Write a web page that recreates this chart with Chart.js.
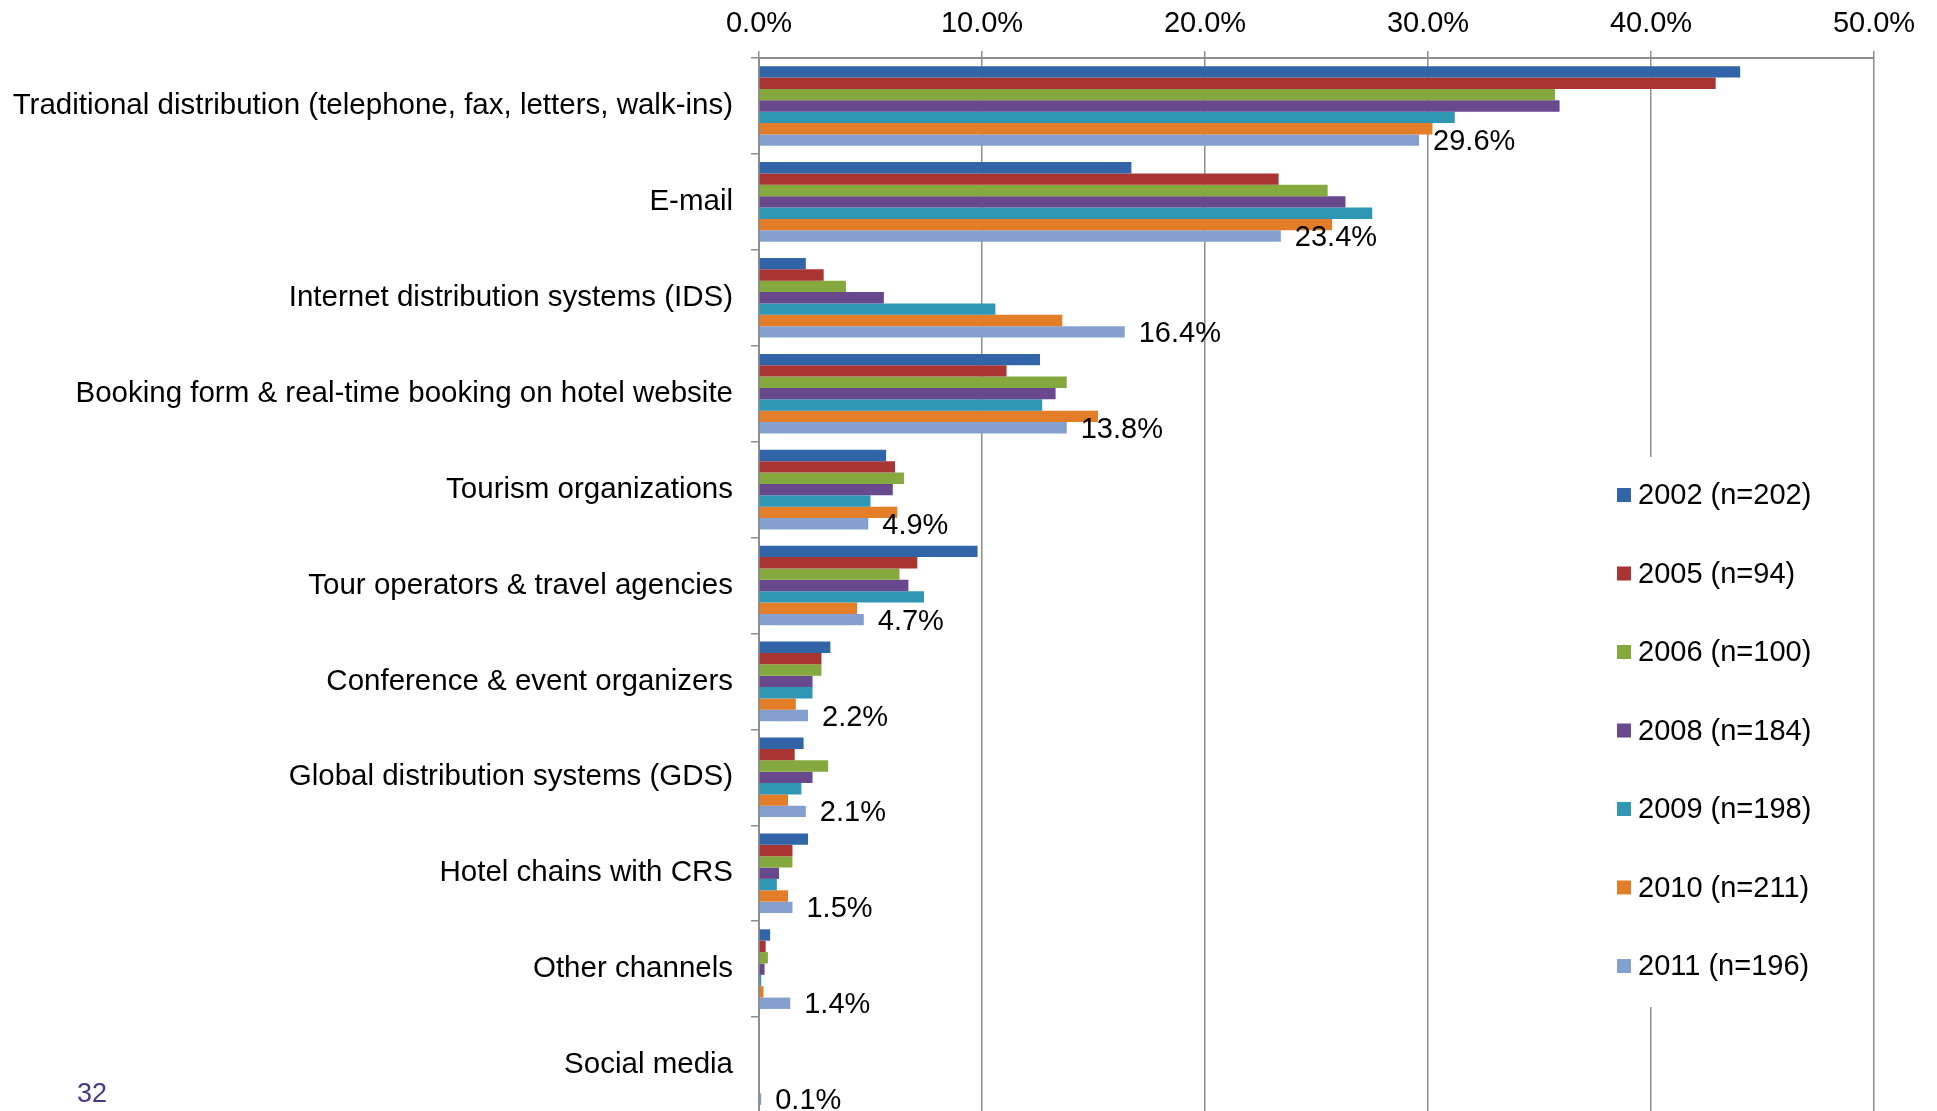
<!DOCTYPE html>
<html>
<head>
<meta charset="utf-8">
<script src="https://cdn.jsdelivr.net/npm/chart.js@4"></script>
<style>
    html, body { margin: 0; padding: 0; background: #fff; overflow: hidden; }
    #wrap { position: relative; width: 1937px; height: 1111px; overflow: hidden; }
    #pageNo { position: absolute; left: 77px; top: 1077px; font: 27px "Liberation Sans", Arial, sans-serif; color: #403c85; line-height: 32px; }
</style>
</head>
<body>
<div id="wrap">
    <canvas id="barChart" width="1937" height="1116"></canvas>
    <div id="pageNo">32</div>
</div>
<script>
const categories = [
    'Traditional distribution (telephone, fax, letters, walk-ins)',
    'E-mail',
    'Internet distribution systems (IDS)',
    'Booking form & real-time booking on hotel website',
    'Tourism organizations',
    'Tour operators & travel agencies',
    'Conference & event organizers',
    'Global distribution systems (GDS)',
    'Hotel chains with CRS',
    'Other channels',
    'Social media'
];

const seriesNames = ['2002 (n=202)', '2005 (n=94)', '2006 (n=100)', '2008 (n=184)', '2009 (n=198)', '2010 (n=211)', '2011 (n=196)'];
const seriesColors = ['#3165a8', '#a93533', '#86a93f', '#69498e', '#2f97b4', '#e47d27', '#84a0cf'];

const v2002 = [44.0, 16.7, 2.1, 12.6, 5.7, 9.8, 3.2, 2.0, 2.2, 0.5, null];
const v2005 = [42.9, 23.3, 2.9, 11.1, 6.1, 7.1, 2.8, 1.6, 1.5, 0.3, null];
const v2006 = [35.7, 25.5, 3.9, 13.8, 6.5, 6.3, 2.8, 3.1, 1.5, 0.4, null];
const v2008 = [35.9, 26.3, 5.6, 13.3, 6.0, 6.7, 2.4, 2.4, 0.9, 0.25, null];
const v2009 = [31.2, 27.5, 10.6, 12.7, 5.0, 7.4, 2.4, 1.9, 0.8, 0.1, null];
const v2010 = [30.2, 25.7, 13.6, 15.2, 6.2, 4.4, 1.65, 1.3, 1.3, 0.2, null];
const v2011 = [29.6, 23.4, 16.4, 13.8, 4.9, 4.7, 2.2, 2.1, 1.5, 1.4, 0.1];

const allValues = [v2002, v2005, v2006, v2008, v2009, v2010, v2011];
const xTicks = [0, 10, 20, 30, 40, 50];

const FONT = '"Liberation Sans", Arial, sans-serif';
const GRID = '#8e8e8e';

function buildDatasets() {
    return allValues.map((vals, i) => ({
        label: seriesNames[i],
        data: vals,
        backgroundColor: seriesColors[i],
        borderWidth: 0,
        barPercentage: 1.0,
        categoryPercentage: 0.83
    }));
}

// value labels on the last series (2011) only
const lastSeriesLabels = {
    id: 'lastSeriesLabels',
    afterDatasetsDraw(chart) {
        const ctx = chart.ctx;
        const idx = chart.data.datasets.length - 1;
        const meta = chart.getDatasetMeta(idx);
        ctx.save();
        ctx.font = '29px ' + FONT;
        ctx.fillStyle = '#000';
        ctx.textAlign = 'left';
        ctx.textBaseline = 'middle';
        meta.data.forEach((bar, j) => {
            const v = chart.data.datasets[idx].data[j];
            if (v == null) return;
            ctx.fillText(v.toFixed(1) + '%', bar.x + 14, bar.y + 2);
        });
        ctx.restore();
    }
};

// Excel-like legend box sitting inside the plot area
const boxLegend = {
    id: 'boxLegend',
    afterDatasetsDraw(chart) {
        const ctx = chart.ctx;
        ctx.save();
        ctx.fillStyle = '#fff';
        ctx.fillRect(1600, 457, 230, 550);
        ctx.font = '29px ' + FONT;
        ctx.textAlign = 'left';
        ctx.textBaseline = 'middle';
        chart.data.datasets.forEach((ds, i) => {
            const y = 495 + i * 78.5;
            ctx.fillStyle = ds.backgroundColor;
            ctx.fillRect(1617, y - 7, 14, 14);
            ctx.fillStyle = '#000';
            ctx.fillText(ds.label, 1638, y + 1);
        });
        ctx.restore();
    }
};

function initChart() {
    const ctx = document.getElementById('barChart');
    if (!ctx) return;

    new Chart(ctx, {
        type: 'bar',
        data: {
            labels: categories,
            datasets: buildDatasets()
        },
        options: {
            indexAxis: 'y',
            responsive: false,
            animation: false,
            devicePixelRatio: 1,
            layout: { padding: { top: 0, right: 63, bottom: 3, left: 0 } },
            plugins: {
                legend: { display: false },
                tooltip: { enabled: false }
            },
            scales: {
                x: {
                    position: 'top',
                    min: 0,
                    max: 50,
                    afterBuildTicks: scale => { scale.ticks = xTicks.map(v => ({ value: v })); },
                    afterFit: scale => { scale.height = 58; },
                    grid: { color: GRID, lineWidth: 1.5, tickLength: 7, tickColor: GRID },
                    border: { display: true, color: GRID, width: 2 },
                    ticks: {
                        padding: 10,
                        color: '#000',
                        font: { family: FONT, size: 29 },
                        callback: v => v.toFixed(1) + '%'
                    }
                },
                y: {
                    afterFit: scale => {
                        scale.width = 759;
                        scale.paddingTop = 0;
                        scale.paddingBottom = 0;
                    },
                    grid: { display: true, drawOnChartArea: false, offset: true, tickLength: 8, tickColor: GRID, lineWidth: 1.5 },
                    border: { display: true, color: GRID, width: 2 },
                    ticks: {
                        padding: 18,
                        color: '#000',
                        font: { family: FONT, size: 29.5 },
                        autoSkip: false
                    }
                }
            }
        },
        plugins: [lastSeriesLabels, boxLegend]
    });
}

if (document.readyState === 'loading') {
    document.addEventListener('DOMContentLoaded', initChart);
} else {
    initChart();
}
</script>
</body>
</html>
